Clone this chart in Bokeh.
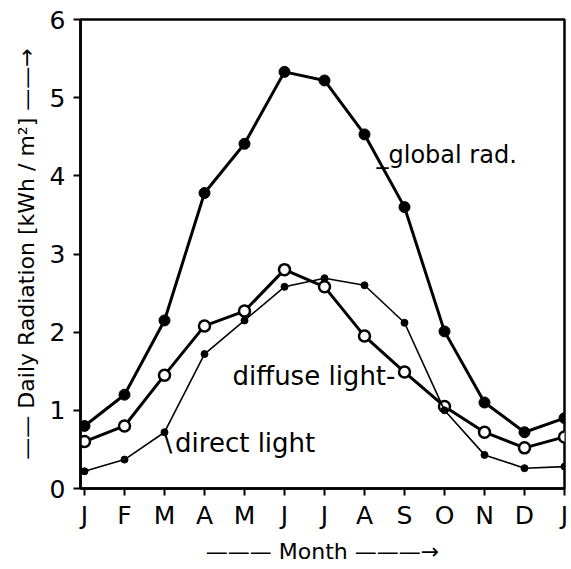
from bokeh.plotting import figure
from bokeh.models import FixedTicker, Label
from bokeh.embed import file_html
from bokeh.resources import INLINE

months = ["J", "F", "M", "A", "M", "J", "J", "A", "S", "O", "N", "D", "J"]
month_idx = list(range(len(months)))
global_rad = [0.8, 1.2, 2.15, 3.78, 4.41, 5.33, 5.22, 4.53, 3.6, 2.01, 1.1, 0.72, 0.9]
diffuse_light = [0.6, 0.8, 1.45, 2.08, 2.27, 2.8, 2.58, 1.95, 1.49, 1.05, 0.72, 0.52, 0.66]
direct_light = [0.22, 0.37, 0.72, 1.72, 2.15, 2.58, 2.69, 2.6, 2.12, 1.0, 0.43, 0.26, 0.28]
y_ticks = [0, 1, 2, 3, 4, 5, 6]

FONT = "DejaVu Sans"

p = figure(width=568, height=566, output_backend="svg", toolbar_location=None,
           x_range=(-0.1, 12.0), y_range=(0, 6),
           min_border_left=80, min_border_top=19, min_border_right=4, min_border_bottom=76)
p.grid.visible = False
p.outline_line_color = "black"
p.outline_line_width = 2.5

p.xaxis.ticker = FixedTicker(ticks=month_idx)
p.xaxis.major_label_overrides = {i: m for i, m in enumerate(months)}
p.yaxis.ticker = FixedTicker(ticks=y_ticks)
for ax in (p.xaxis, p.yaxis):
    ax.axis_line_width = 2.5
    ax.major_tick_line_width = 2
    ax.major_tick_out = 7
    ax.major_tick_in = 0
    ax.minor_tick_line_color = None
    ax.major_label_text_font = FONT
    ax.major_label_text_font_size = "25px"
    ax.major_label_text_color = "black"
    ax.axis_label_text_font = FONT
    ax.axis_label_text_font_style = "normal"
    ax.axis_label_text_font_size = "22px"
    ax.axis_label_text_color = "black"
p.xaxis.major_label_standoff = 5
p.yaxis.major_label_standoff = 8
p.xaxis.axis_label = "——— Month ———→"
p.yaxis.axis_label = "—— Daily Radiation [kWh / m²] ——→"
p.xaxis.axis_label_standoff = 6
p.yaxis.axis_label_standoff = 8

# global radiation
p.line(month_idx, global_rad, line_color="black", line_width=3)
p.scatter(month_idx, global_rad, size=11, fill_color="black", line_color="black")

# diffuse light
p.line(month_idx, diffuse_light, line_color="black", line_width=3)
p.scatter(month_idx, diffuse_light, size=11, fill_color="white", line_color="black", line_width=2.5)

# direct light
p.line(month_idx, direct_light, line_color="black", line_width=1.6)
p.scatter(month_idx, direct_light, size=7, fill_color="black", line_color="black")

p.add_layout(Label(x=7.3, y=4.27, text="_global rad.", text_font=FONT, text_font_size="24px",
                   text_color="black", text_baseline="middle", text_align="left"))
p.add_layout(Label(x=3.7, y=1.44, text="diffuse light-", text_font=FONT, text_font_size="26px",
                   text_color="black", text_baseline="middle", text_align="left"))
p.add_layout(Label(x=1.85, y=0.58, text="\u2216direct light", text_font=FONT, text_font_size="26px",
                   text_color="black", text_baseline="middle", text_align="left"))

open("out.html", "w").write(file_html(p, INLINE))
